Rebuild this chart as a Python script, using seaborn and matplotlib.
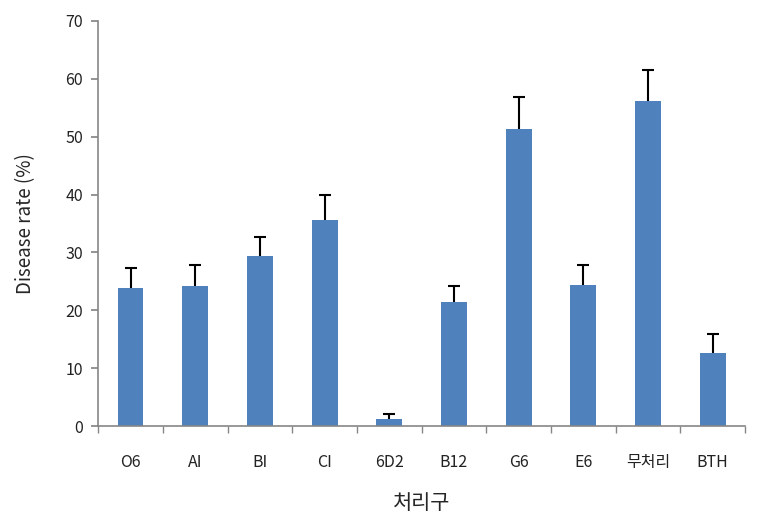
import matplotlib
matplotlib.use("Agg")
import matplotlib.pyplot as plt
import seaborn as sns
import numpy as np
import pandas as pd

categories = ["O6", "AI", "BI", "CI", "6D2", "B12", "G6", "E6", "무처리", "BTH"]
values = [23.9, 24.2, 29.4, 35.6, 1.2, 21.4, 51.3, 24.4, 56.2, 12.6]
errors = [3.4, 3.6, 3.2, 4.3, 0.8, 2.8, 5.5, 3.4, 5.3, 3.3]
yticks = [0, 10, 20, 30, 40, 50, 60, 70]

sns.set_theme(style="white")
plt.rcParams['font.family'] = ['Noto Sans CJK KR', 'DejaVu Sans']

fig = plt.figure(figsize=(7.61, 5.21), dpi=100)
ax = fig.add_axes([0.129, 0.1823, 0.850, 0.7774])

df = pd.DataFrame({"cat": categories, "val": values})
sns.barplot(data=df, x="cat", y="val", color="#4F81BD", saturation=1, width=0.4,
            ax=ax, errorbar=None, linewidth=0)
xs = np.arange(len(categories))
eb = ax.errorbar(xs, values, yerr=[np.zeros(len(values)), errors], fmt='none',
                 ecolor='black', elinewidth=1.5, capsize=4, capthick=1.5)
caplines = eb[1]
if len(caplines) >= 2:
    caplines[0].set_visible(False)

ax.set_xlim(-0.5, len(categories) - 0.5)
ax.set_ylim(0, 70)
ax.set_yticks(yticks)
ax.set_yticklabels([str(t) for t in yticks], fontsize=11.5, color="#222222")

ax.set_xticks(xs)
ax.set_xticklabels(categories, fontsize=11.5, color="#222222")
ax.tick_params(axis='x', which='major', length=0, pad=20)
ax.set_xticks(np.arange(-0.5, len(categories), 1.0), minor=True)
ax.tick_params(axis='x', which='minor', length=5, color="#868686", direction='out', bottom=True)
ax.tick_params(axis='y', which='major', length=5, color="#868686", direction='out', left=True, pad=6)

for s in ["top", "right"]:
    ax.spines[s].set_visible(False)
for s in ["left", "bottom"]:
    ax.spines[s].set_color("#868686")
    ax.spines[s].set_linewidth(1.2)

ax.set_xlabel("처리구", fontsize=15, labelpad=15)
ax.set_ylabel("Disease rate (%)", fontsize=13.5, labelpad=21)

fig.savefig("out.png", dpi=100)
